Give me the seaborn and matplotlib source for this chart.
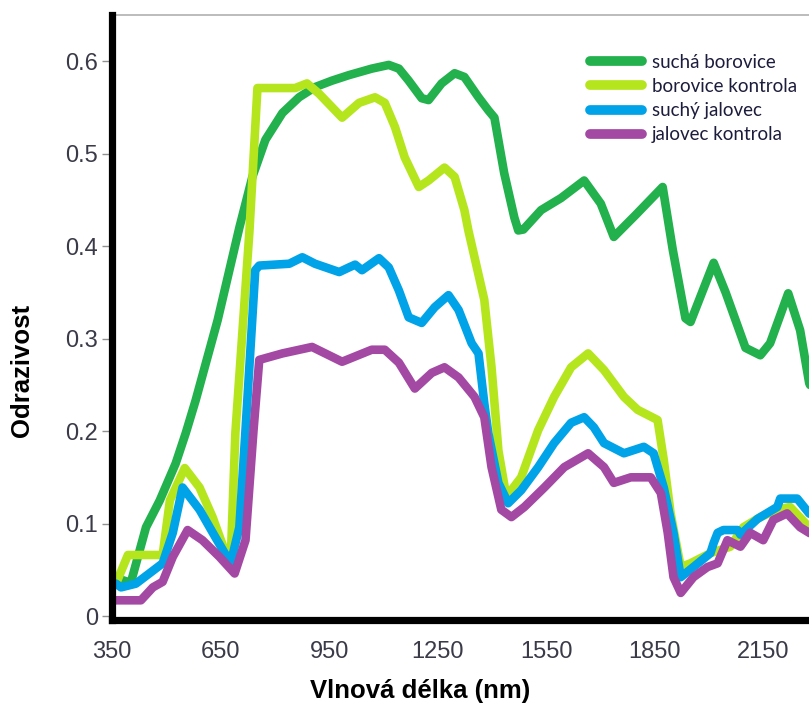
import matplotlib
matplotlib.use("Agg")
import matplotlib.pyplot as plt
import seaborn as sns
import pandas as pd
from matplotlib.lines import Line2D

# ---- data -----------------------------------------------------------
series_names = ["suchá borovice", "borovice kontrola", "suchý jalovec", "jalovec kontrola"]
series_colors = ["#22b14c", "#b5e61d", "#00a2e8", "#a349a4"]

wl_sucha_borovice = [350, 361, 402, 444, 482, 526, 554, 581, 642, 702, 738, 774, 821, 867, 911,
                     958, 1005, 1068, 1115, 1143, 1170, 1206, 1225, 1261, 1297, 1324, 1363, 1390,
                     1407, 1434, 1462, 1473, 1487, 1536, 1591, 1655, 1701, 1737, 1798, 1872, 1900,
                     1935, 1949, 2013, 2046, 2101, 2142, 2169, 2219, 2252, 2277, 2300]
r_sucha_borovice = [0.043, 0.041, 0.036, 0.096, 0.125, 0.165, 0.198, 0.233, 0.320, 0.420, 0.475,
                    0.515, 0.544, 0.561, 0.572, 0.579, 0.585, 0.592, 0.596, 0.592, 0.579, 0.560,
                    0.558, 0.576, 0.587, 0.583, 0.561, 0.547, 0.539, 0.479, 0.431, 0.417, 0.418,
                    0.439, 0.452, 0.471, 0.446, 0.410, 0.434, 0.464, 0.396, 0.322, 0.318, 0.382,
                    0.350, 0.290, 0.282, 0.295, 0.349, 0.309, 0.252, 0.230]

wl_borovice_kontrola = [350, 361, 394, 435, 490, 510, 551, 592, 628, 664, 678, 691, 730, 752, 856,
                        889, 922, 986, 1033, 1077, 1104, 1132, 1159, 1198, 1225, 1269, 1297, 1324,
                        1335, 1379, 1399, 1418, 1440, 1481, 1528, 1572, 1619, 1666, 1710, 1765,
                        1803, 1858, 1875, 1894, 1922, 1949, 2004, 2059, 2095, 2142, 2189, 2224,
                        2277, 2300]
r_borovice_kontrola = [0.035, 0.035, 0.066, 0.066, 0.066, 0.125, 0.160, 0.139, 0.107, 0.068,
                       0.060, 0.198, 0.417, 0.571, 0.571, 0.576, 0.565, 0.539, 0.555, 0.561,
                       0.555, 0.529, 0.496, 0.464, 0.471, 0.485, 0.475, 0.439, 0.417, 0.342,
                       0.269, 0.179, 0.129, 0.150, 0.201, 0.237, 0.269, 0.284, 0.266, 0.237,
                       0.223, 0.212, 0.169, 0.111, 0.053, 0.057, 0.068, 0.075, 0.096, 0.107,
                       0.115, 0.118, 0.096, 0.090]

wl_suchy_jalovec = [350, 361, 375, 416, 490, 518, 545, 592, 636, 678, 702, 719, 746, 757, 840,
                    876, 911, 978, 1005, 1022, 1041, 1088, 1115, 1143, 1170, 1206, 1242, 1280,
                    1308, 1344, 1363, 1379, 1390, 1418, 1445, 1481, 1528, 1572, 1619, 1655,
                    1682, 1710, 1765, 1820, 1847, 1875, 1902, 1922, 1957, 2004, 2013, 2024,
                    2040, 2079, 2087, 2134, 2189, 2197, 2244, 2277, 2300]
r_suchy_jalovec = [0.035, 0.035, 0.031, 0.035, 0.057, 0.090, 0.139, 0.115, 0.085, 0.057, 0.096,
                   0.201, 0.374, 0.379, 0.381, 0.388, 0.381, 0.372, 0.377, 0.380, 0.374, 0.387,
                   0.377, 0.352, 0.323, 0.317, 0.334, 0.347, 0.331, 0.295, 0.284, 0.230, 0.198,
                   0.144, 0.122, 0.136, 0.161, 0.187, 0.209, 0.215, 0.204, 0.187, 0.176, 0.183,
                   0.176, 0.139, 0.090, 0.042, 0.053, 0.068, 0.079, 0.090, 0.093, 0.093, 0.088,
                   0.105, 0.118, 0.127, 0.127, 0.111, 0.105]

wl_jalovec_kontrola = [350, 361, 430, 463, 490, 518, 559, 600, 647, 689, 719, 741, 757, 821, 903,
                       986, 1068, 1104, 1143, 1187, 1234, 1269, 1308, 1352, 1379, 1399, 1426,
                       1454, 1490, 1545, 1600, 1666, 1710, 1737, 1784, 1839, 1867, 1886, 1902,
                       1922, 1957, 1996, 2024, 2051, 2087, 2114, 2150, 2178, 2216, 2252, 2277,
                       2300]
r_jalovec_kontrola = [0.017, 0.017, 0.017, 0.031, 0.037, 0.064, 0.093, 0.082, 0.064, 0.046,
                      0.082, 0.200, 0.277, 0.284, 0.291, 0.275, 0.288, 0.288, 0.274, 0.246,
                      0.263, 0.269, 0.258, 0.237, 0.215, 0.161, 0.115, 0.107, 0.118, 0.139,
                      0.161, 0.176, 0.161, 0.144, 0.150, 0.150, 0.133, 0.090, 0.042, 0.025,
                      0.042, 0.053, 0.057, 0.082, 0.075, 0.090, 0.082, 0.104, 0.111, 0.096,
                      0.090, 0.085]

x_ticks = [350, 650, 950, 1250, 1550, 1850, 2150]
y_ticks = [0, 0.1, 0.2, 0.3, 0.4, 0.5, 0.6]
y_tick_labels = ["0", "0.1", "0.2", "0.3", "0.4", "0.5", "0.6"]
x_label = "Vlnová délka (nm)"
y_label = "Odrazivost"

# ---- build table ----------------------------------------------------
frames = []
for name, wl, r in zip(series_names,
                       [wl_sucha_borovice, wl_borovice_kontrola, wl_suchy_jalovec, wl_jalovec_kontrola],
                       [r_sucha_borovice, r_borovice_kontrola, r_suchy_jalovec, r_jalovec_kontrola]):
    frames.append(pd.DataFrame({"wl": wl, "r": r, "serie": name}))
df = pd.concat(frames, ignore_index=True)

# ---- plot -----------------------------------------------------------
sns.set_theme(style="white")
plt.rcParams["font.family"] = ["Liberation Sans", "DejaVu Sans"]

fig = plt.figure(figsize=(8.09, 7.09), dpi=100)
ax = fig.add_axes([112 / 809, 89 / 709, 1 - 112 / 809, (620 - 15) / 709])

sns.lineplot(data=df, x="wl", y="r", hue="serie", hue_order=series_names,
             palette=dict(zip(series_names, series_colors)), estimator=None, sort=False,
             linewidth=6.2, ax=ax, legend=False)
for ln in ax.get_lines():
    ln.set_solid_joinstyle("round")
    ln.set_solid_capstyle("round")

ax.set_xlim(358, 2276.5)
ax.set_ylim(-0.0043, 0.65)
ax.set_xticks(x_ticks)
ax.set_yticks(y_ticks)
ax.set_yticklabels(y_tick_labels)

for s in ["left", "bottom"]:
    ax.spines[s].set_color("black")
    ax.spines[s].set_linewidth(5.2)
    ax.spines[s].set_zorder(5)
ax.spines["top"].set_color("#b0b0b0")
ax.spines["top"].set_linewidth(1.2)
ax.spines["right"].set_visible(False)

ax.tick_params(axis="y", which="both", left=True, length=7, width=1, color="#909090",
               labelsize=17, labelcolor="#3a3a48", pad=3)
ax.tick_params(axis="x", which="both", bottom=False, length=0,
               labelsize=17, labelcolor="#3a3a48", pad=15)

ax.set_xlabel(x_label, fontsize=18.5, fontweight="bold", color="black")
ax.set_ylabel(y_label, fontsize=18.5, fontweight="bold", color="black")
ax.xaxis.set_label_coords(420 / 809, 18 / 709, transform=fig.transFigure)
ax.yaxis.set_label_coords(22 / 809, 1 - 370 / 709, transform=fig.transFigure)
ax.xaxis.label.set_va("center")
ax.yaxis.label.set_va("center")

handles = [Line2D([0], [0], color=c, lw=7, solid_capstyle="round") for c in series_colors]
leg = ax.legend(handles, series_names, loc="upper left",
                bbox_to_anchor=(573 / 809, 1 - 37 / 709), bbox_transform=fig.transFigure,
                frameon=False, prop={"family": ["Lato", "DejaVu Sans"], "size": 13.5},
                handlelength=2.8, handletextpad=0.5, labelspacing=0.38)
for t in leg.get_texts():
    t.set_color("#1c1c3c")

fig.savefig("out.png", dpi=100)
